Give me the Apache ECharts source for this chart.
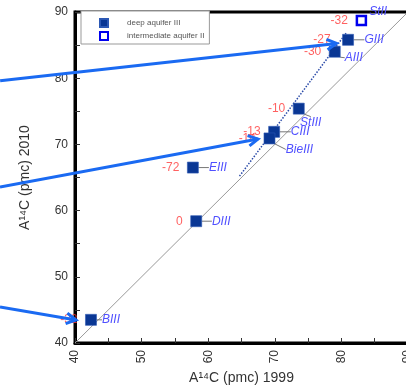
<!DOCTYPE html>
<html><head><meta charset="utf-8">
<script src="https://cdn.jsdelivr.net/npm/echarts@6/dist/echarts.min.js"></script>
<style>html,body{margin:0;padding:0;background:#fff;}#c{width:406px;height:391px;}</style>
</head><body><div id="c"></div>
<script>
// ---- data ----
const deepNames = ['GIII','AIII','StIII','CIII','BieIII','EIII','DIII','BIII'];
const deepX1999 = [81.0, 79.0, 73.6, 69.9, 69.2, 57.7, 58.2, 42.4];
const deepY2010 = [85.8, 84.0, 75.4, 71.9, 70.9, 66.5, 58.4, 43.5];
const deepDelta = ['-27','-30','-10','-13','-14','-72','0','-32'];
const interNames = ['StII'];
const interX1999 = [83.0];
const interY2010 = [88.7];
const interDelta = ['-32'];
const tickLabels = [40, 50, 60, 70, 80, 90];
const refLine = [[40, 40], [90, 90]];
const trendLine = [[64.7, 65.2], [80.7, 86.8]];
const arrows = [
  [[28.76, 79.6], [79.28, 85.25]],
  [[28.74, 63.57], [67.48, 70.82]],
  [[28.74, 45.44], [40.15, 43.47]]
];

// ---- layout (label offsets in px) ----
const deepLabelOffset = [[26,0],[19,6],[12,14],[26,0],[30,11],[25,0],[25,0],[20,0]];
const FONT = 'Liberation Sans, Arial, sans-serif';

const chart = echarts.init(document.getElementById('c'), null, {renderer:'canvas'});
const deepData = deepNames.map((n,i)=>({name:n, value:[deepX1999[i], deepY2010[i]]}));
const interData = interNames.map((n,i)=>({name:n, value:[interX1999[i], interY2010[i]]}));
const deltaData = deepNames.map((n,i)=>({name:n, value:[deepX1999[i], deepY2010[i]],
    label: i===0 ? {distance:12} : undefined}))
  .concat(interNames.map((n,i)=>({name:n, value:[interX1999[i], interY2010[i]]})));
const allDelta = deepDelta.concat(interDelta);

function axisCommon(){
  return {
    type:'value', min:40, max:90, interval:5,
    axisLine:{show:true, onZero:false, lineStyle:{color:'#000', width:3}},
    axisTick:{show:true, inside:true, length:5, lineStyle:{color:'#333', width:1}},
    splitLine:{show:false},
    axisLabel:{color:'#333', fontSize:12, fontFamily:FONT, margin:7,
      formatter: v => tickLabels.includes(v) ? String(v) : ''},
    nameLocation:'middle',
    nameTextStyle:{color:'#333', fontSize:14, fontFamily:FONT}
  };
}
const xa = axisCommon(); xa.name = 'A¹⁴C (pmc) 1999'; xa.nameGap = 27; xa.axisLabel.rotate = 90;
const ya = axisCommon(); ya.name = 'A¹⁴C (pmc) 2010'; ya.nameGap = 43;

const option = {
  animation:false,
  backgroundColor:'#fff',
  grid:{left:75, right:-2, top:12, bottom:48, show:true, borderColor:'#000', borderWidth:3,
        containLabel:false, outerBoundsMode:'none'},
  xAxis: xa,
  yAxis: ya,
  legend:{
    data:['deep aquifer III','intermediate aquifer II'],
    orient:'vertical', left:81, top:11,
    padding:[7,5,3,18], itemGap:3, itemWidth:8, itemHeight:8,
    backgroundColor:'#fff', borderColor:'#999', borderWidth:1,
    textStyle:{fontSize:8, color:'#555', fontFamily:FONT, padding:[0,0,0,14]}
  },
  series:[
    {type:'line', data:refLine, symbol:'none', silent:true, z:1,
     lineStyle:{color:'#999', width:1}},
    {type:'line', data:trendLine, symbol:'none', silent:true, z:2,
     lineStyle:{color:'#2a4aa8', width:1.5, type:'dotted'}},
    {name:'deep aquifer III', type:'scatter', symbol:'rect', symbolSize:11, z:5,
     itemStyle:{color:'#0a3794', borderColor:'#2c58b4', borderWidth:0.6, opacity:1},
     data:deepData,
     label:{show:true, position:'inside', formatter:p=>p.name, color:'#5050ff',
       fontStyle:'italic', fontSize:12, fontFamily:FONT},
     labelLine:{show:true, lineStyle:{color:'#777', width:1}},
     labelLayout: p => ({dx:deepLabelOffset[p.dataIndex][0], dy:deepLabelOffset[p.dataIndex][1]})},
    {name:'intermediate aquifer II', type:'scatter', symbol:'rect', symbolSize:9, z:5,
     itemStyle:{color:'#fff', borderColor:'#0000ee', borderWidth:2.5, opacity:1},
     data:interData,
     label:{show:true, position:'right', distance:2, offset:[0,-9], formatter:p=>p.name,
       color:'#5050ff', fontStyle:'italic', fontSize:12, fontFamily:FONT}},
    {name:'delta', type:'scatter', symbol:'rect', symbolSize:11, silent:true, z:4,
     itemStyle:{color:'rgba(0,0,0,0)'},
     data:deltaData,
     label:{show:true, position:'left', distance:8, formatter:p=>allDelta[p.dataIndex],
       color:'#ff3a3a', fontSize:12, fontFamily:FONT}}
  ]
};
chart.setOption(option);

const g = [];
const AC = '#1a6af2';
arrows.forEach(a=>{
  const p0 = chart.convertToPixel({gridIndex:0}, a[0]);
  const p1 = chart.convertToPixel({gridIndex:0}, a[1]);
  const ang = Math.atan2(p1[1]-p0[1], p1[0]-p0[0]);
  const L = 11, w = 0.5;
  const h1 = [p1[0]-L*Math.cos(ang-w), p1[1]-L*Math.sin(ang-w)];
  const h2 = [p1[0]-L*Math.cos(ang+w), p1[1]-L*Math.sin(ang+w)];
  g.push({type:'polyline', shape:{points:[p0,p1]}, style:{stroke:AC, lineWidth:3, fill:null}, z:100});
  g.push({type:'polyline', shape:{points:[h1,p1,h2]}, style:{stroke:AC, lineWidth:3, fill:null, lineJoin:'miter'}, z:100});
});
chart.setOption({graphic:g});
</script>
</body></html>
